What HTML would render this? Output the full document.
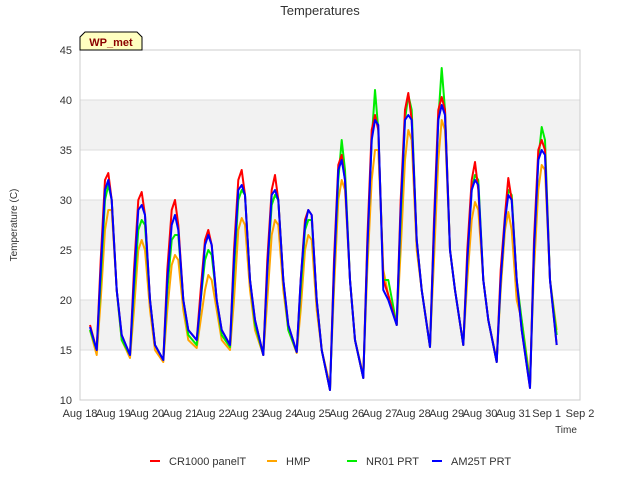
<!DOCTYPE html>
<html><head><meta charset="utf-8"><style>
body{margin:0;background:#fff;font-family:"Liberation Sans",sans-serif}
svg text{font-family:"Liberation Sans",sans-serif}
</style></head><body>
<svg id="c" width="640" height="480">
<rect x="0" y="0" width="640" height="480" fill="#fff"/>
<g id="bands"></g>
<g id="grid"></g>
<rect x="80" y="50" width="500" height="350" fill="none" stroke="#ccc"/>
<g id="ticks"></g>
<g id="series"></g>
<text x="320" y="15" text-anchor="middle" font-size="13" fill="#333">Temperatures</text>
<text x="17" y="225" text-anchor="middle" font-size="10" fill="#333" transform="rotate(-90 17 225)">Temperature (C)</text>
<text x="566" y="433" text-anchor="middle" font-size="10" fill="#333">Time</text>
<g>
<path d="M80,50 L80,37 L85,32 L137,32 L142,37 L142,50 Z" fill="#ffffc0" stroke="#000"/>
<text x="111" y="46" text-anchor="middle" font-size="11" font-weight="bold" fill="#8b0000">WP_met</text>
</g>
<g id="legend"></g>
</svg>
<script>
const yTicks=[10,15,20,25,30,35,40,45];
const xTickLabels=["Aug 18","Aug 19","Aug 20","Aug 21","Aug 22","Aug 23","Aug 24","Aug 25","Aug 26","Aug 27","Aug 28","Aug 29","Aug 30","Aug 31","Sep 1","Sep 2"];
const seriesNames=["CR1000 panelT","HMP","NR01 PRT","AM25T PRT"];
const seriesColors=["#ff0000","#ffa500","#00ee00","#0000ff"];
const times=[0.3,0.5,
0.62,0.75,0.85,0.95,1.1,1.25,1.5,
1.62,1.75,1.85,1.95,2.1,2.25,2.5,
2.62,2.75,2.85,2.95,3.1,3.25,3.5,
3.62,3.75,3.85,3.95,4.1,4.25,4.5,
4.62,4.75,4.85,4.95,5.1,5.25,5.5,
5.62,5.75,5.85,5.95,6.1,6.25,6.5,
6.62,6.75,6.85,6.95,7.1,7.25,7.5,
7.62,7.75,7.85,7.95,8.1,8.25,8.5,
8.62,8.75,8.85,8.95,9.1,9.25,9.5,
9.62,9.75,9.85,9.95,10.1,10.25,10.5,
10.62,10.75,10.85,10.95,11.1,11.25,11.5,
11.62,11.75,11.85,11.95,12.1,12.25,12.5,
12.62,12.75,12.85,12.95,13.1,13.25,13.5,
13.62,13.75,13.85,13.95,14.1,14.3];
const cr1000=[17.5,15,
24,32,32.7,30,21,16.5,14.5,
23,30,30.8,28.5,20,15.5,14,
23,29,30,27.5,20,17,16,
21,26,27,25.5,20,17,15.5,
25,32,33,30.5,22,18,14.5,
24,31,32.5,30,22,17.5,14.8,
22,28,29,28.5,20,15,11,
24,33.5,34.5,32,22,16,12.2,
26,37,38.5,37,22,20.5,17.5,
30,39,40.7,38,26,21,15.3,
28,39,40.3,39,25,21,15.5,
25,32,33.8,31,22,18,13.8,
23,28.5,32.2,30,22,17,11.2,
26,35,36,35,22,15.5];
const hmp=[17,14.5,
20,27,29,29,21,16,14.2,
19,25,26,25,19,15,13.8,
19,23.5,24.5,24,19,16,15.2,
18,21,22.5,22,19,16,15,
20,27,28.2,27.5,21,17,14.5,
20,26.5,28,27.5,21,17,14.7,
19,25,26.5,26,19,15,11.5,
21,30,32,31,22,16,12.5,
23,32,35,35,23,20.5,17.5,
25,34,37,36,25,21,15.5,
24,34,38,37,25,21,15.5,
22,28,29.8,29,22,18,14,
21,27,28.8,27,20,18,12,
23,31,33.5,33,22,17];
const nr01=[17,15,
22,30,31.5,30,21,16,14.5,
21,27,28,27.5,20,15.5,14,
21,26,26.5,26.5,20,16.5,15.5,
20,24,25,24.5,20,16.5,15.3,
23,30,31,30.5,22,17.5,14.5,
23,29.5,30.5,30,22,17,14.8,
21,27,28,28,20,15,11,
23,32,36,33,22,16,12.2,
25,36,41,37,22,22,17.5,
28,38,40.5,39,26,21,15.3,
27,38,43.2,39,25,21,15.5,
24,31,32.5,32,22,18,13.8,
22,28,31,30.5,22,18,11.5,
25,34,37.3,36,22,16.5];
const am25t=[17.3,15,
23,31,32,30,21,16.5,14.5,
22,29,29.5,28.5,20,15.5,14,
22,27.5,28.5,27,20,17,16,
20,25.5,26.5,25.5,20,17,15.5,
24,31,31.5,30.5,22,18,14.5,
23,30.5,31,30,22,17.5,14.8,
22,27.5,29,28.5,20,15,11,
23,33,34,32,22,16,12.2,
25,36,38,37.5,21,20,17.5,
29,38,38.5,38,26,21,15.3,
27,38,39.5,38.5,25,21,15.5,
24,31,32,31.5,22,18,13.8,
22,28,30.5,30,22,17,11.2,
25,34,35,34.5,22,15.5];
const ns="http://www.w3.org/2000/svg";
const X0=80,X1=580,Y0=400,Y1=50;
function xScale(t){return X0+(X1-X0)*t/15;}
function yScale(v){return Y0-(Y0-Y1)*(v-10)/35;}
function mk(tag,attrs,parent){const e=document.createElementNS(ns,tag);for(const k in attrs)e.setAttribute(k,attrs[k]);parent.appendChild(e);return e;}
const bands=document.getElementById('bands'),grid=document.getElementById('grid'),ticks=document.getElementById('ticks');
for(let i=0;i<yTicks.length-1;i++){
  if(i%2===1){const r=mk('rect',{x:X0,y:yScale(yTicks[i+1]),width:X1-X0,height:yScale(yTicks[i])-yScale(yTicks[i+1]),fill:'#f2f2f2'},bands);
  
  }
}
yTicks.forEach(v=>{
  const l=mk('line',{x1:X0,x2:X1,y1:yScale(v),y2:yScale(v),stroke:'#ddd'},grid);
  
  
  const t=mk('text',{x:X0-8,y:yScale(v)+4,'text-anchor':'end','font-size':'11',fill:'#333'},ticks);
  t.textContent=v;
  
  
});
xTickLabels.forEach((s,i)=>{
  const t=mk('text',{x:xScale(i),y:417,'text-anchor':'middle','font-size':'11',fill:'#333'},ticks);
  t.textContent=s;
  
  
});
const allSeries=[cr1000,hmp,nr01,am25t];
const sg=document.getElementById('series');
[1,2,0,3].forEach(si=>{
  const vals=allSeries[si];
  const d=times.map((t,i)=>(i?'L':'M')+xScale(t).toFixed(1)+','+yScale(vals[i]).toFixed(1)).join(' ');
  const p=mk('path',{d:d,fill:'none',stroke:seriesColors[si],'stroke-width':'2','stroke-linejoin':'round'},sg);
  
  
});
const lg=document.getElementById('legend');
const lx=[150,267,347,432];
seriesNames.forEach((n,i)=>{
  const g=mk('g',{},lg);
  
  
  mk('line',{x1:lx[i],x2:lx[i]+10,y1:461,y2:461,stroke:seriesColors[i],'stroke-width':'2'},g);
  const t=mk('text',{x:lx[i]+19,y:465,'font-size':'11',fill:'#333'},g);
  t.textContent=n;
});
</script>
</body></html>
